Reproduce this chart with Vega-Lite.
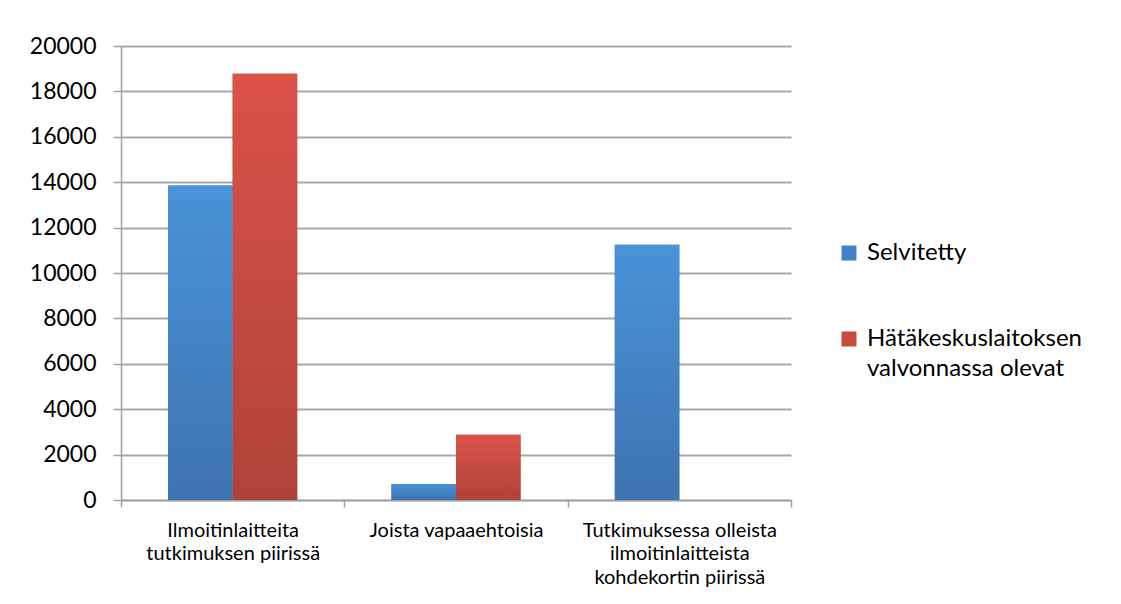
{
  "$schema": "https://vega.github.io/schema/vega-lite/v6.json",
  "width": 670,
  "height": 454,
  "autosize": {"type": "none"},
  "padding": {"left": 121, "top": 46, "right": 330, "bottom": 104},
  "background": "white",
  "config": {
    "font": "Lato",
    "view": {"stroke": null},
    "style": {"guide-label": {"lineHeight": 30}}
  },
  "data": {
    "values": [
      {"kategoria": "Ilmoitinlaitteita\ntutkimuksen piirissä", "sarja": "Selvitetty", "arvo": 13850},
      {"kategoria": "Ilmoitinlaitteita\ntutkimuksen piirissä", "sarja": "Hätäkeskuslaitoksen\nvalvonnassa olevat", "arvo": 18780},
      {"kategoria": "Joista vapaaehtoisia", "sarja": "Selvitetty", "arvo": 700},
      {"kategoria": "Joista vapaaehtoisia", "sarja": "Hätäkeskuslaitoksen\nvalvonnassa olevat", "arvo": 2870},
      {"kategoria": "Tutkimuksessa olleista\nilmoitinlaitteista\nkohdekortin piirissä", "sarja": "Selvitetty", "arvo": 11250}
    ]
  },
  "encoding": {
    "x": {
      "field": "kategoria",
      "type": "nominal",
      "sort": null,
      "scale": {"paddingInner": 0, "paddingOuter": 0},
      "axis": {
        "title": null,
        "labelAngle": 0,
        "labelExpr": "split(datum.label, '\\n')",
        "labelLineHeight": 23.5,
        "labelFontSize": 20,
        "labelColor": "#000000",
        "labelLimit": 400,
        "labelPadding": 29,
        "labelBaseline": "alphabetic",
        "tickBand": "extent",
        "tickSize": 7,
        "tickColor": "#a0a0a0",
        "tickWidth": 1.5,
        "domainColor": "#a0a0a0",
        "domainWidth": 1.5
      }
    },
    "xOffset": {
      "field": "sarja",
      "type": "nominal",
      "sort": ["Selvitetty", "Hätäkeskuslaitoksen\nvalvonnassa olevat"],
      "scale": {"paddingInner": 0, "paddingOuter": 0.73}
    },
    "y": {
      "field": "arvo",
      "type": "quantitative",
      "scale": {"domain": [0, 20000], "nice": false},
      "axis": {
        "title": null,
        "values": [0, 2000, 4000, 6000, 8000, 10000, 12000, 14000, 16000, 18000, 20000],
        "format": "d",
        "labelFontSize": 23,
        "labelColor": "#000000",
        "labelPadding": 17,
        "tickSize": 8,
        "tickColor": "#a0a0a0",
        "tickWidth": 1.5,
        "domainColor": "#a0a0a0",
        "domainWidth": 1.5,
        "grid": true,
        "gridColor": "#a8a8a8",
        "gridWidth": 2
      }
    }
  },
  "layer": [
    {
      "mark": {"type": "bar"},
      "encoding": {
        "color": {
          "field": "sarja",
          "type": "nominal",
          "scale": {
            "domain": ["Selvitetty", "Hätäkeskuslaitoksen\nvalvonnassa olevat"],
            "range": ["#4283c8", "#c84b42"]
          },
          "legend": {
            "title": null,
            "orient": "none",
            "legendX": 716,
            "legendY": 195,
            "symbolType": "square",
            "symbolSize": 225,
            "symbolStrokeWidth": 0,
            "labelFontSize": 24,
            "labelColor": "#000000",
            "labelExpr": "split(datum.label, '\\n')",
            "labelOffset": 6,
            "labelLimit": 400,
            "rowPadding": 62
          }
        }
      }
    },
    {
      "mark": {"type": "bar"},
      "encoding": {
        "fill": {
          "condition": {
            "test": "datum.sarja === 'Selvitetty'",
            "value": {
              "gradient": "linear",
              "x1": 0, "y1": 0, "x2": 0, "y2": 1,
              "stops": [
                {"offset": 0, "color": "#4a93d9"},
                {"offset": 1, "color": "#3c74ae"}
              ]
            }
          },
          "value": {
            "gradient": "linear",
            "x1": 0, "y1": 0, "x2": 0, "y2": 1,
            "stops": [
              {"offset": 0, "color": "#db5249"},
              {"offset": 1, "color": "#ae4339"}
            ]
          }
        }
      }
    }
  ]
}
